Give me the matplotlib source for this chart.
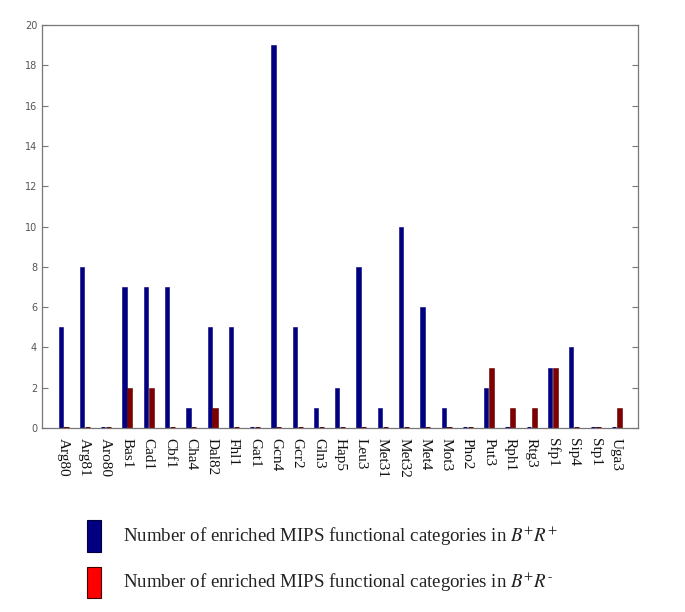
import matplotlib.pyplot as plt
import numpy as np
from matplotlib.patches import Rectangle

plt.rcParams['mathtext.fontset'] = 'stix'

# Transcription factors and enriched category counts
factors = ['Arg80', 'Arg81', 'Aro80', 'Bas1', 'Cad1', 'Cbf1', 'Cha4', 'Dal82', 'Fhl1',
           'Gat1', 'Gcn4', 'Gcr2', 'Gln3', 'Hap5', 'Leu3', 'Met31', 'Met32', 'Met4',
           'Mot3', 'Pho2', 'Put3', 'Rph1', 'Rtg3', 'Sfp1', 'Sip4', 'Stp1', 'Uga3']
bp_rp = [5, 8, 0, 7, 7, 7, 1, 5, 5, 0, 19, 5, 1, 2, 8, 1, 10, 6, 1, 0, 2, 0, 0, 3, 4, 0, 0]
bp_rm = [0, 0, 0, 2, 2, 0, 0, 1, 0, 0, 0, 0, 0, 0, 0, 0, 0, 0, 0, 0, 3, 1, 1, 3, 0, 0, 1]
yticks = list(range(0, 21, 2))

legend_labels = ['Number of enriched MIPS functional categories in $B^{+}R^{+}$',
                 'Number of enriched MIPS functional categories in $B^{+}R^{\\text{-}}$']

blue = '#000080'
maroon = '#800000'

fig = plt.figure(figsize=(6.85, 6.12), dpi=100)
ax = fig.add_axes([0.0613, 0.3007, 0.8697, 0.6583])

x = np.arange(1, len(factors) + 1)
blue_vals = np.array(bp_rp)
red_vals = np.array(bp_rm)

ax.bar(x - 0.12, blue_vals, width=0.2, color=blue, edgecolor=blue,
       linewidth=np.where(blue_vals == 0, 2.2, 0.4))
ax.bar(x + 0.13, red_vals, width=0.24, color=maroon, edgecolor='#5a0000',
       linewidth=np.where(red_vals == 0, 2.2, 0.4))

ax.set_xlim(0, 28)
ax.set_ylim(0, 20)
ax.set_yticks(yticks)
ax.tick_params(axis='y', direction='in', length=4, color='#777777', labelsize=7,
               labelcolor='#555555', right=True)
ax.set_xticks(x)
ax.set_xticklabels(factors, rotation=270, fontfamily='Liberation Serif',
                   fontsize=11, color='#111111')
ax.tick_params(axis='x', length=0, pad=7)
for s in ax.spines.values():
    s.set_color('#777777')
    s.set_linewidth(0.9)

# Legend drawn below the axes
fig.patches.append(Rectangle((87 / 685, 1 - 552 / 612), 14 / 685, 32 / 612,
                             transform=fig.transFigure, facecolor=blue,
                             edgecolor='#000040', linewidth=0.8))
fig.patches.append(Rectangle((87 / 685, 1 - 598 / 612), 14 / 685, 31 / 612,
                             transform=fig.transFigure, facecolor='#ff0000',
                             edgecolor='#400000', linewidth=0.8))
fig.text(123 / 685, 1 - 536 / 612, legend_labels[0], fontsize=13.6,
         fontfamily='Liberation Serif', va='center', ha='left', color='#222222')
fig.text(123 / 685, 1 - 582 / 612, legend_labels[1], fontsize=13.6,
         fontfamily='Liberation Serif', va='center', ha='left', color='#222222')

fig.savefig('out.png', dpi=100)
